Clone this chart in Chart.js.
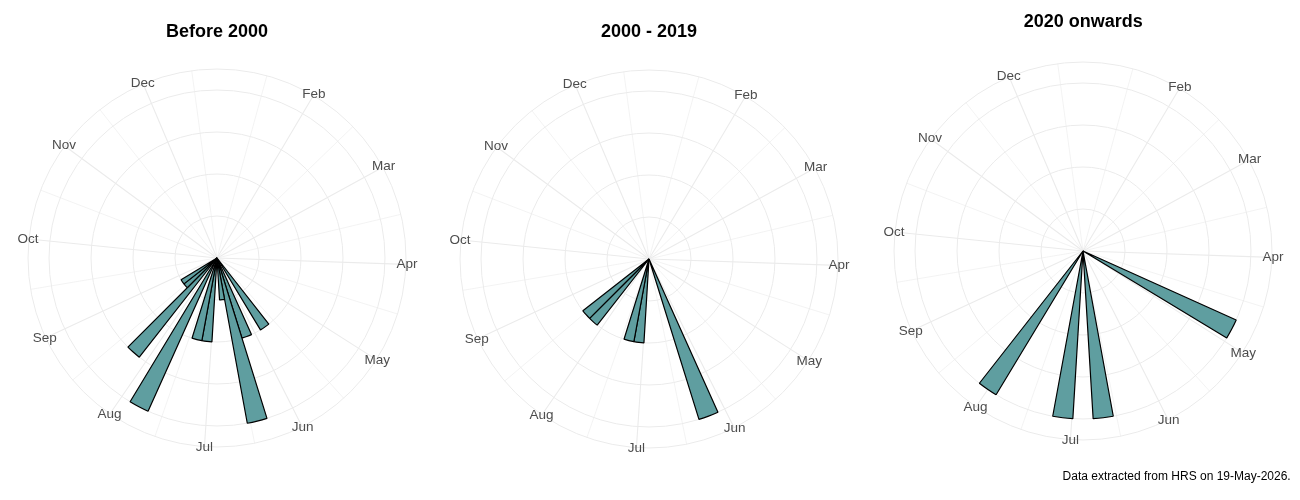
<!DOCTYPE html>
<html>
<head>
<meta charset="utf-8">
<title>Weekly distribution by period</title>
<script src="https://cdn.jsdelivr.net/npm/chart.js@4.4.1/dist/chart.umd.min.js"></script>
<style>
    html, body { margin: 0; padding: 0; background: #fff; }
    #page { position: relative; width: 1300px; height: 500px; overflow: hidden; }
    .panel { position: absolute; top: 0; height: 500px; }
</style>
</head>
<body>
<div id="page">
    <div class="panel" style="left:0;width:433px"><canvas id="chartBefore2000"></canvas></div>
    <div class="panel" style="left:433px;width:434px"><canvas id="chart2000to2019"></canvas></div>
    <div class="panel" style="left:867px;width:433px"><canvas id="chart2020on"></canvas></div>
</div>
<script>
// week-of-year bins, week 0 sits at 12 o'clock
const weeks = [...Array(52).keys()];

// month breaks on the angle axis, in week units
const monthNames = ['Feb', 'Mar', 'Apr', 'May', 'Jun', 'Jul', 'Aug', 'Sep', 'Oct', 'Nov', 'Dec'];
const monthAt = [4.43, 8.85, 13.28, 17.7, 22.13, 26.55, 30.98, 35.4, 39.83, 44.25, 48.68];
const minorAt = [2.21, 6.64, 11.07, 15.49, 19.92, 24.34, 28.77, 33.19, 37.62, 42.04, 46.47, 50.89];

// bars per panel: which week, how many
const before2000Weeks = [21, 23, 24, 25, 27, 28, 30, 32, 33, 34];
const before2000Counts = [2, 2, 4, 1, 2, 2, 4, 3, 1, 1];
const mid2000Weeks = [23, 27, 28, 32, 33];
const mid2000Counts = [4, 2, 2, 2, 2];
const since2020Weeks = [17, 25, 27, 31];
const since2020Counts = [1, 1, 1, 1];

// radial breaks (circles)
const countBreaks = [0, 1, 2, 3, 4];
const since2020Breaks = [0, 0.25, 0.5, 0.75, 1];

const FONT = "'Liberation Sans', Arial, Helvetica, sans-serif";
const BIN_DEG = 360 / weeks.length;

function weeklySeries(binWeeks, counts) {
    const data = weeks.map(() => 0);
    binWeeks.forEach((w, i) => { data[w] = counts[i]; });
    return data;
}

// segments are centred on their index, so a week position p sits at index p + 0.5
function spoke(ctx, r, pos, outer, width) {
    const end = r.getPointPosition(pos + 0.5, outer);
    ctx.lineWidth = width;
    ctx.beginPath();
    ctx.moveTo(r.xCenter, r.yCenter);
    ctx.lineTo(end.x, end.y);
    ctx.stroke();
}

const polarGuides = {
    id: 'polarGuides',
    beforeDatasetsDraw(chart) {
        const r = chart.scales.r;
        const ctx = chart.ctx;
        const outer = r.getDistanceFromCenterForValue(r.max);
        ctx.save();
        ctx.strokeStyle = '#ebebeb';
        minorAt.forEach(p => spoke(ctx, r, p, outer, 0.6));
        monthAt.forEach(p => spoke(ctx, r, p, outer, 1.1));
        ctx.restore();
    },
    afterDatasetsDraw(chart) {
        const r = chart.scales.r;
        const ctx = chart.ctx;
        const outer = r.getDistanceFromCenterForValue(r.max);
        ctx.save();
        ctx.font = '13.5px ' + FONT;
        ctx.fillStyle = '#4d4d4d';
        ctx.textAlign = 'center';
        ctx.textBaseline = 'middle';
        monthNames.forEach((name, i) => {
            const pt = r.getPointPosition(monthAt[i] + 0.5, outer + 1);
            ctx.fillText(name, pt.x, pt.y);
        });
        ctx.restore();
    }
};

function makeChart(id, title, binWeeks, counts, breaks, box) {
    const top = breaks[breaks.length - 1] * 1.125;
    return new Chart(document.getElementById(id), {
        type: 'polarArea',
        data: {
            labels: weeks,
            datasets: [{
                data: weeklySeries(binWeeks, counts),
                backgroundColor: '#5f9ea0',
                borderColor: '#000',
                borderWidth: c => (c.raw > 0 ? 1.2 : 0)
            }]
        },
        options: {
            responsive: true,
            maintainAspectRatio: false,
            animation: false,
            events: [],
            layout: { padding: box.padding },
            scales: {
                r: {
                    min: 0,
                    max: top,
                    startAngle: -BIN_DEG / 2,
                    afterBuildTicks: s => { s.ticks = breaks.concat(top).map(v => ({ value: v })); },
                    ticks: { display: false },
                    grid: { circular: true, color: '#ebebeb', lineWidth: 1 },
                    angleLines: { display: false },
                    pointLabels: { display: false }
                }
            },
            plugins: {
                legend: { display: false },
                tooltip: { enabled: false },
                title: {
                    display: true,
                    text: title,
                    color: '#000',
                    font: { family: FONT, size: 18, weight: 'bold' },
                    padding: box.title
                },
                subtitle: {
                    display: !!box.caption,
                    text: box.caption || '',
                    position: 'bottom',
                    align: 'end',
                    color: '#000',
                    font: { family: FONT, size: 12 },
                    padding: { top: 29.3, bottom: 0 }
                }
            }
        },
        plugins: [polarGuides]
    });
}

makeChart('chartBefore2000', 'Before 2000', before2000Weeks, before2000Counts, countBreaks, {
    padding: { left: 27.5, right: 26.5, top: 0, bottom: 52.2 },
    title: { top: 20.9, bottom: 26.3 }
});
makeChart('chart2000to2019', '2000 - 2019', mid2000Weeks, mid2000Counts, countBreaks, {
    padding: { left: 26.5, right: 28.5, top: 0, bottom: 51.5 },
    title: { top: 20.9, bottom: 27 }
});
makeChart('chart2020on', '2020 onwards', since2020Weeks, since2020Counts, since2020Breaks, {
    padding: { left: 9, right: 9.3, top: 0, bottom: 15.8 },
    title: { top: 11.2, bottom: 28.7 },
    caption: 'Data extracted from HRS on 19-May-2026.'
});
</script>
</body>
</html>
